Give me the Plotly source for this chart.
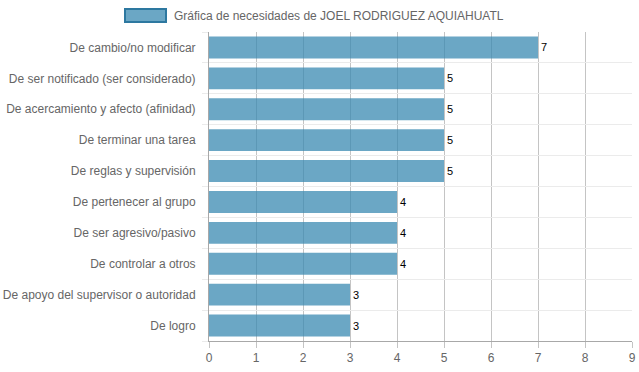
import plotly.graph_objects as go

categories = [
    "De cambio/no modificar",
    "De ser notificado (ser considerado)",
    "De acercamiento y afecto (afinidad)",
    "De terminar una tarea",
    "De reglas y supervisión",
    "De pertenecer al grupo",
    "De ser agresivo/pasivo",
    "De controlar a otros",
    "De apoyo del supervisor o autoridad",
    "De logro",
]
values = [7, 5, 5, 5, 5, 4, 4, 4, 3, 3]
series_name = "Gráfica de necesidades de JOEL RODRIGUEZ AQUIAHUATL"
x_ticks = [0, 1, 2, 3, 4, 5, 6, 7, 8, 9]

FONT = "Liberation Sans, Arial, Helvetica, sans-serif"
BAR_FILL = "rgba(58,138,178,0.75)"
BAR_LINE = "rgba(45,120,160,1)"

W, H = 639, 372
PLOT_L, PLOT_R, PLOT_T, PLOT_B = 209, 632, 32, 341
L, T, R, B = PLOT_L, PLOT_T, W - PLOT_R, H - PLOT_B
PW = PLOT_R - PLOT_L
PH = PLOT_B - PLOT_T

fig = go.Figure()
fig.add_trace(go.Bar(
    y=categories,
    x=values,
    orientation="h",
    name=series_name,
    marker=dict(color=BAR_FILL, line=dict(width=0)),
    text=[str(v) for v in values],
    textposition="outside",
    textfont=dict(family=FONT, size=11, color="#000000"),
    cliponaxis=False,
    showlegend=False,
))

# invisible trace to activate the numeric overlay y axis (category boundary grid)
fig.add_trace(go.Scatter(x=[None], y=[None], yaxis="y2", showlegend=False, hoverinfo="skip"))

fig.update_layout(
    width=W,
    height=H,
    margin=dict(l=L, r=R, t=T, b=B, autoexpand=False),
    paper_bgcolor="white",
    plot_bgcolor="white",
    bargap=0.29,
    font=dict(family=FONT, size=12, color="#666666"),
    xaxis=dict(
        range=[0, 9],
        tickvals=x_ticks,
        ticktext=[str(t) for t in x_ticks],
        showgrid=True,
        gridcolor="#c4c4c4",
        gridwidth=1,
        zeroline=False,
        showline=True,
        linecolor="#a8a8a8",
        ticks="outside",
        ticklen=6,
        tickcolor="#c4c4c4",
        tickfont=dict(size=12, color="#666666"),
        automargin=False,
    ),
    yaxis=dict(
        categoryorder="array",
        categoryarray=categories,
        autorange="reversed",
        showgrid=False,
        zeroline=False,
        showline=True,
        linecolor="#a8a8a8",
        ticks="",
        ticklabelstandoff=10,
        tickfont=dict(size=12, color="#666666"),
        automargin=False,
    ),
    yaxis2=dict(
        overlaying="y",
        range=[0, len(categories)],
        dtick=1,
        tick0=0,
        showgrid=True,
        gridcolor="#ebebeb",
        gridwidth=1,
        showticklabels=False,
        ticks="outside",
        ticklen=6,
        tickcolor="#ebebeb",
        zeroline=False,
        side="left",
        automargin=False,
    ),
    shapes=[
        dict(type="rect", xref="paper", yref="paper",
             x0=(125 - PLOT_L) / PW, x1=(166 - PLOT_L) / PW,
             y0=1 + (PLOT_T - 9) / PH, y1=1 + (PLOT_T - 22) / PH,
             fillcolor=BAR_FILL,
             line=dict(color=BAR_LINE, width=2)),
    ],
    annotations=[
        dict(text=series_name, xref="paper", yref="paper",
             x=(172 - PLOT_L) / PW, y=1 + (PLOT_T - 15.5) / PH,
             xanchor="left", yanchor="middle", showarrow=False,
             font=dict(family=FONT, size=12, color="#666666")),
    ],
)

fig.write_html(
    "out.html",
    config={"displayModeBar": False},
    post_script="document.body.style.margin='0';",
)
